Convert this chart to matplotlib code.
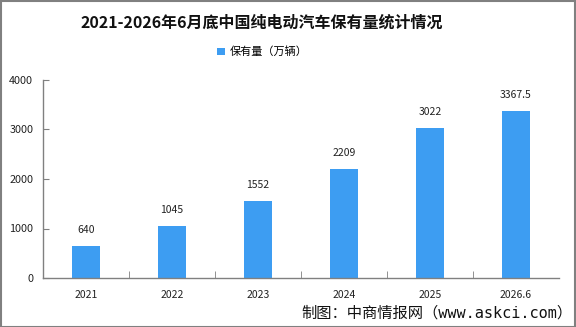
import matplotlib
matplotlib.use("Agg")
import matplotlib.pyplot as plt
from matplotlib.patches import Rectangle
import numpy as np

plt.rcParams['font.family'] = ['Noto Sans CJK SC', 'DejaVu Sans']

categories = ["2021", "2022", "2023", "2024", "2025", "2026.6"]
values = [640, 1045, 1552, 2209, 3022, 3367.5]
value_labels = ["640", "1045", "1552", "2209", "3022", "3367.5"]
yticks = [0, 1000, 2000, 3000, 4000]
title = "2021-2026年6月底中国纯电动汽车保有量统计情况"
legend_label = "保有量（万辆）"
source = "制图：中商情报网（www.askci.com）"

bar_color = "#3D9DF2"
axis_color = "#808080"

fig = plt.figure(figsize=(5.76, 3.27), dpi=100)
ax = fig.add_axes([43/576, 1-278/327, 516/576, 198/327])

x = np.arange(len(categories))
bars = ax.bar(x, values, width=0.32, color=bar_color, label=legend_label, zorder=2)
for xi, v, lab in zip(x, values, value_labels):
    ax.annotate(lab, (xi, v), xytext=(0, 8), textcoords="offset points",
                ha="center", va="bottom", fontsize=7.5, color="#222222")

ax.set_xlim(-0.5, len(categories) - 0.5)
ax.set_ylim(0, 4000)
ax.set_yticks(yticks)
ax.set_yticklabels([str(t) for t in yticks], fontsize=7.8, color="#222222")
ax.set_xticks(x)
ax.set_xticklabels(categories, fontsize=7.5, color="#222222")
ax.tick_params(axis='x', length=0, pad=9)
ax.set_xticks(np.arange(0.5, len(categories) - 0.5, 1), minor=True)
ax.tick_params(axis='x', which='minor', direction='in', length=5, color=axis_color)
ax.tick_params(axis='y', direction='in', length=4, color=axis_color, pad=7)

for s in ['top', 'right']:
    ax.spines[s].set_visible(False)
for s in ['left', 'bottom']:
    ax.spines[s].set_color(axis_color)
    ax.spines[s].set_linewidth(1.0)

fig.text(262/576, 1-23/327, title, ha="center", va="center", fontsize=11.5,
         fontweight="bold", color="#111111")

leg = fig.legend(handles=[bars], labels=[legend_label], loc="center",
                 bbox_to_anchor=(0.455, 1-52/327), frameon=False, fontsize=8,
                 handlelength=0.7, handleheight=0.7, handletextpad=0.4)

fig.text(572/576, 1-313/327, source, ha="right", va="center", fontsize=11,
         family=['DejaVu Sans Mono', 'Noto Sans CJK SC'], color="#111111")

fig.patches.append(Rectangle((0.5/576, 0.5/327), 1-1.5/576, 1-1.5/327,
                             transform=fig.transFigure, fill=False,
                             edgecolor="#808080", linewidth=1.5))

fig.savefig("out.png", dpi=100)
